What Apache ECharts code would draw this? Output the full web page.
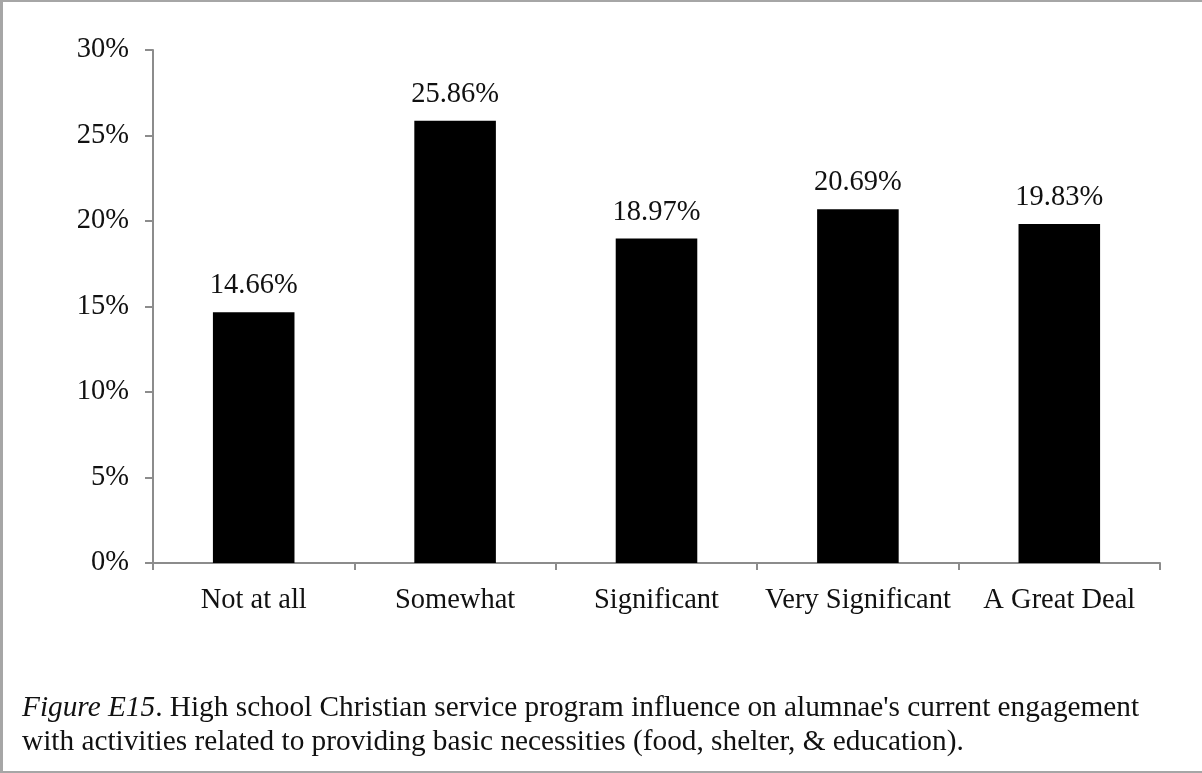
<!DOCTYPE html>
<html>
<head>
<meta charset="utf-8">
<script src="https://cdn.jsdelivr.net/npm/echarts@6/dist/echarts.min.js"></script>
<style>
  html, body { margin: 0; padding: 0; background: #fff; }
  #frame {
    position: absolute; left: 0; top: 0;
    width: 1199px; height: 769px;
    border-left: 3px solid #a6a6a6;
    border-top: 2px solid #a6a6a6;
    border-bottom: 2px solid #a6a6a6;
  }
  #chart { width: 1199px; height: 769px; }
</style>
</head>
<body>
<div id="frame"><div id="chart"></div></div>
<script>
// Share of alumnae by reported influence level
const categories = ['Not at all', 'Somewhat', 'Significant', 'Very Significant', 'A Great Deal'];
const percentages = [14.66, 25.86, 18.97, 20.69, 19.83];
const yTicks = [0, 5, 10, 15, 20, 25, 30];

const FONT = '"Liberation Serif", "Times New Roman", serif';
const AXIS = '#8c8c8c';
const SIZE = 28.5;
const CAPTION_SIZE = 29.3;

const chart = echarts.init(document.getElementById('chart'));
chart.setOption({
  animation: false,
  textStyle: { fontFamily: FONT },
  title: {
    left: 14,
    top: 684,
    text: '{i|Figure E15}. High school Christian service program influence on alumnae\'s current engagement\nwith activities related to providing basic necessities (food, shelter, & education).',
    textStyle: {
      fontFamily: FONT, fontSize: CAPTION_SIZE, fontWeight: 'normal', color: '#111',
      lineHeight: 34,
      rich: {
        i: { fontFamily: FONT, fontSize: CAPTION_SIZE, fontStyle: 'italic', color: '#111', lineHeight: 34 }
      }
    }
  },
  grid: { left: 150, right: 42, top: 48, bottom: 208, containLabel: false },
  xAxis: {
    type: 'category',
    data: categories,
    axisLine: { lineStyle: { color: AXIS, width: 2 } },
    axisTick: { show: true, length: 7, lineStyle: { color: AXIS, width: 2 } },
    axisLabel: { color: '#111', fontFamily: FONT, fontSize: SIZE, margin: 23, interval: 0 }
  },
  yAxis: {
    type: 'value',
    min: yTicks[0],
    max: yTicks[yTicks.length - 1],
    interval: 5,
    splitLine: { show: false },
    axisLine: { show: true, lineStyle: { color: AXIS, width: 2 } },
    axisTick: { show: true, length: 8, lineStyle: { color: AXIS, width: 2 } },
    axisLabel: { color: '#111', fontFamily: FONT, fontSize: SIZE, margin: 24, formatter: v => v + '%' }
  },
  series: [{
    type: 'bar',
    data: percentages,
    barWidth: '40.5%',
    itemStyle: { color: '#000' },
    label: {
      show: true,
      position: 'top',
      distance: 12,
      color: '#111',
      fontFamily: FONT,
      fontSize: SIZE,
      formatter: p => p.value.toFixed(2) + '%'
    }
  }]
});
</script>
</body>
</html>
